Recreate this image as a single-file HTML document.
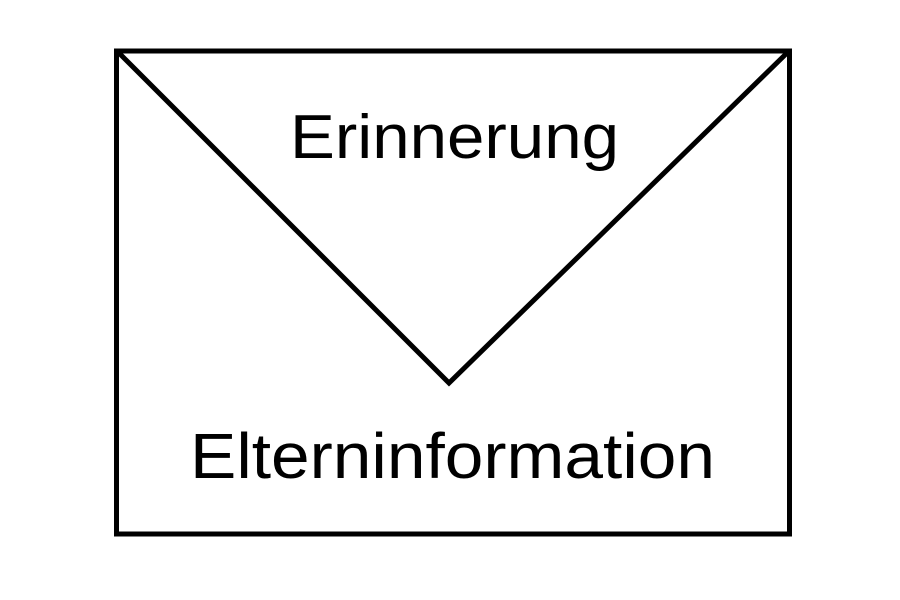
<!DOCTYPE html>
<html><head><meta charset="utf-8"><style>html,body{margin:0;padding:0;background:#fff;}svg{display:block}</style></head>
<body>
<svg width="900" height="600" viewBox="0 0 900 600" xmlns="http://www.w3.org/2000/svg">
<rect x="0" y="0" width="900" height="600" fill="#fff"/>
<rect x="116.5" y="51" width="673" height="483" fill="none" stroke="#000" stroke-width="5"/>
<polyline points="117,51 449,383 789,51" fill="none" stroke="#000" stroke-width="5" stroke-linejoin="miter"/>
<text x="290" y="158" font-family="Liberation Sans, sans-serif" font-size="62" textLength="329" lengthAdjust="spacingAndGlyphs" fill="#000">Erinnerung</text>
<text x="190" y="478" font-family="Liberation Sans, sans-serif" font-size="64" textLength="525" lengthAdjust="spacingAndGlyphs" fill="#000">Elterninformation</text>
</svg>
</body></html>
